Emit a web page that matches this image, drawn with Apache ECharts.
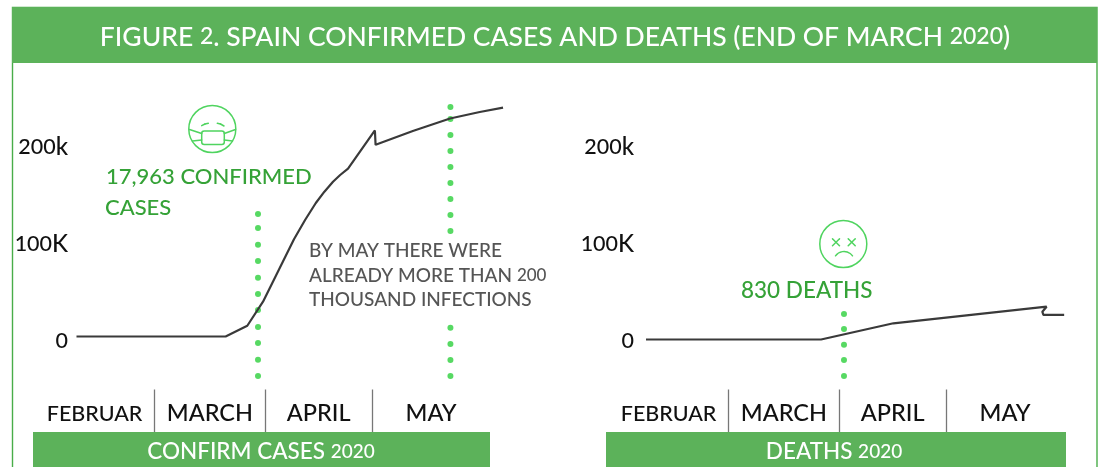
<!DOCTYPE html>
<html><head><meta charset="utf-8">
<style>html,body{margin:0;padding:0;background:#fff}#c{width:1099px;height:467px}</style>
<script src="https://cdn.jsdelivr.net/npm/echarts@6/dist/echarts.min.js"></script>
</head><body><div id="c"></div>
<script>
// x values are days counted from 1 February 2020, y values are thousands
const monthNames = ['FEBRUAR','MARCH','APRIL','MAY'];
const monthLabelDays = [12.4,44.6,75,106.4];
const monthBoundaryDays = [29,60,90];
const yTickValues = [0,100,200];
const yTickLabels = ['0','100K','200k'];
const casesDays = [7.35,49,55.06,59.45,68.1,71.2,74.2,76.6,79,81,83.2,90.7,90.9,101.3,111.7,120,126.5];
const casesValues = [0,0,11.1,35.9,100.2,120.1,137.6,149.3,159.6,166.5,173,212.4,197.6,211.9,224.7,231.4,235.9];
const deathsDays = [6.1,55,75.2,118,116.8,117.1,122.9];
const deathsValues = [0,0,16.7,33.8,28.7,25.3,25.3];
const casesMarchDots = [126.3,111.9,94.6,77.8,60.6,43.8,27.3,9.8,-6.7,-23.9,-40.7];
const casesMayDots = [236.6,224.2,207.7,191.2,174.7,158.2,141.8,125.3,108.8,9.1,-7.7,-24.2,-40.7];
const deathsMarchDots = [26.3,10.8,-5.4,-21.1,-37.6];
const marchDotDayCases = 58.05, mayDotDayCases = 111.8, marchDotDayDeaths = 61.4;

const FONT = '"Lato",sans-serif';
const GREEN = '#5cb25a', TEXTGREEN = '#35a237', DOT = '#2dcf3c', FACE = '#4fd45f';
const pair = (xs, ys) => xs.map((x,i)=>[x,ys[i]]);
const dots = (x, ys) => ys.map(y=>[x,y]);

function xAxis(gridIndex){
  return {type:'value',gridIndex,min:5,max:130,
    axisLine:{show:false,onZero:false},splitLine:{show:false},
    axisTick:{show:true,inside:true,length:gridIndex?47:44,customValues:monthBoundaryDays,lineStyle:{color:'#777',width:1.3}},
    axisLabel:{inside:true,margin:gridIndex?11:8,hideOverlap:false,customValues:monthLabelDays,
      fontFamily:FONT,color:'#111',
      formatter:v=>{const i=monthLabelDays.indexOf(v);return i===0?'{f|'+monthNames[i]+'}':'{m|'+monthNames[i]+'}';},
      rich:{f:{fontSize:21.5,fontFamily:FONT,fontWeight:500,color:'#111'},m:{fontSize:23.5,fontFamily:FONT,fontWeight:500,color:'#111'}}}};
}
function yAxis(gridIndex){
  return {type:'value',gridIndex,min:-100,max:250,
    axisLine:{show:false},splitLine:{show:false},axisTick:{show:false},
    axisLabel:{customValues:yTickValues,margin:gridIndex?8:0,padding:gridIndex?[4,0,0,0]:[9,0,0,0],
      color:'#111',fontFamily:FONT,fontSize:24,
      formatter:v=>{const t=yTickLabels[yTickValues.indexOf(v)];
        const m=t.match(/^(\d+)(.*)$/);return '{d|'+m[1]+'}'+(m[2]?'{n|'+m[2]+'}':'');},
      rich:{d:{fontSize:21.5,fontFamily:FONT,fontWeight:500,color:'#111'},n:{fontSize:24,fontFamily:FONT,fontWeight:500,color:'#111'}}}};
}
const lineSeries=(i,d)=>({type:'line',xAxisIndex:i,yAxisIndex:i,data:d,showSymbol:false,symbol:'none',z:5,
  lineStyle:{color:'#3a3a3a',width:2.2},animation:false});
const dotSeries=(i,d)=>({type:'scatter',xAxisIndex:i,yAxisIndex:i,data:d,symbol:'circle',symbolSize:6,z:3,
  itemStyle:{color:DOT},animation:false,silent:true});

const txt=(x,y,text,size,fill,align='left',rich)=>({type:'text',z:20,style:{x,y,text,fill,align,verticalAlign:'middle',
  fontFamily:FONT,fontSize:size,fontWeight:500,rich}});
const ln=(x1,y1,x2,y2,w=1.5)=>({type:'line',z:20,shape:{x1,y1,x2,y2},style:{stroke:FACE,lineWidth:w,lineCap:'round'}});
const arc=(cx,cy,r,a,b,w=1.5)=>({type:'arc',z:20,shape:{cx,cy,r,startAngle:a,endAngle:b},style:{stroke:FACE,lineWidth:w,fill:null,lineCap:'round'}});
const circ=(cx,cy,r)=>({type:'circle',z:20,shape:{cx,cy,r},style:{stroke:FACE,lineWidth:1.5,fill:'none'}});

const graphic=[
  {type:'rect',z:1,shape:{x:12.5,y:7.5,width:1084.5,height:470},style:{stroke:'#49ad49',lineWidth:1.4,fill:'none'}},
  {type:'rect',z:15,shape:{x:12,y:7,width:1085,height:56},style:{fill:GREEN}},
  txt(555,37,'FIGURE {d|2}. SPAIN CONFIRMED CASES AND DEATHS (END OF MARCH {d|2020})',26.5,'#fff','center',{d:{fontSize:23,fontFamily:FONT,fontWeight:500,fill:'#fff',color:'#fff'}}),
  {type:'rect',z:15,shape:{x:33,y:432,width:457,height:35},style:{fill:GREEN}},
  {type:'rect',z:15,shape:{x:606,y:432,width:460,height:35},style:{fill:GREEN}},
  txt(261,452,'CONFIRM CASES {d|2020}',22.5,'#fff','center',{d:{fontSize:19,fontFamily:FONT,fontWeight:500,color:'#fff'}}),
  txt(834,452,'DEATHS {d|2020}',22.5,'#fff','center',{d:{fontSize:19,fontFamily:FONT,fontWeight:500,color:'#fff'}}),
  txt(106,177,'17,963 CONFIRMED',22,TEXTGREEN),
  txt(105,208,'CASES',22,TEXTGREEN),
  txt(741,291,'830 DEATHS',22.5,TEXTGREEN),
  txt(309,251,'BY MAY THERE WERE',19,'#555'),
  txt(309,276,'ALREADY MORE THAN {d|200}',19,'#555','left',{d:{fontSize:17,fontFamily:FONT,fontWeight:500,color:'#555'}}),
  txt(309,300,'THOUSAND INFECTIONS',19,'#555'),
  // mask face
  circ(212.3,129,23.5),
  {type:'rect',z:20,shape:{x:201.7,y:131,width:22.6,height:13.5,r:2.5},style:{stroke:FACE,lineWidth:1.5,fill:'none'}},
  ln(189.5,129.5,201.7,133.5),ln(192.5,141,201.7,140),ln(224.3,133.5,235.5,129.5),ln(224.3,140,232.5,141),
  ln(201.7,125.7,205,124),ln(205,124,208.3,123.3),ln(217.3,123.3,220.5,124),ln(220.5,124,224,126),
  // dead face
  circ(843.3,244,23.5),
  ln(832.5,238.8,839.5,245.8),ln(839.5,238.8,832.5,245.8),ln(848.2,238.8,855.2,245.8),ln(855.2,238.8,848.2,245.8),
  arc(844,262,10.5,Math.PI*1.2,Math.PI*1.8)
];

const option={
  animation:false,
  grid:[{left:68.08,top:94,width:447.5,height:339.5},{left:642.08,top:97,width:447.5,height:339.5}],
  xAxis:[xAxis(0),xAxis(1)],
  yAxis:[yAxis(0),yAxis(1)],
  series:[
    dotSeries(0,dots(marchDotDayCases,casesMarchDots)),
    dotSeries(0,dots(mayDotDayCases,casesMayDots)),
    dotSeries(1,dots(marchDotDayDeaths,deathsMarchDots)),
    lineSeries(0,pair(casesDays,casesValues)),
    lineSeries(1,pair(deathsDays,deathsValues))
  ],
  graphic
};
echarts.init(document.getElementById('c')).setOption(option);
</script></body></html>
